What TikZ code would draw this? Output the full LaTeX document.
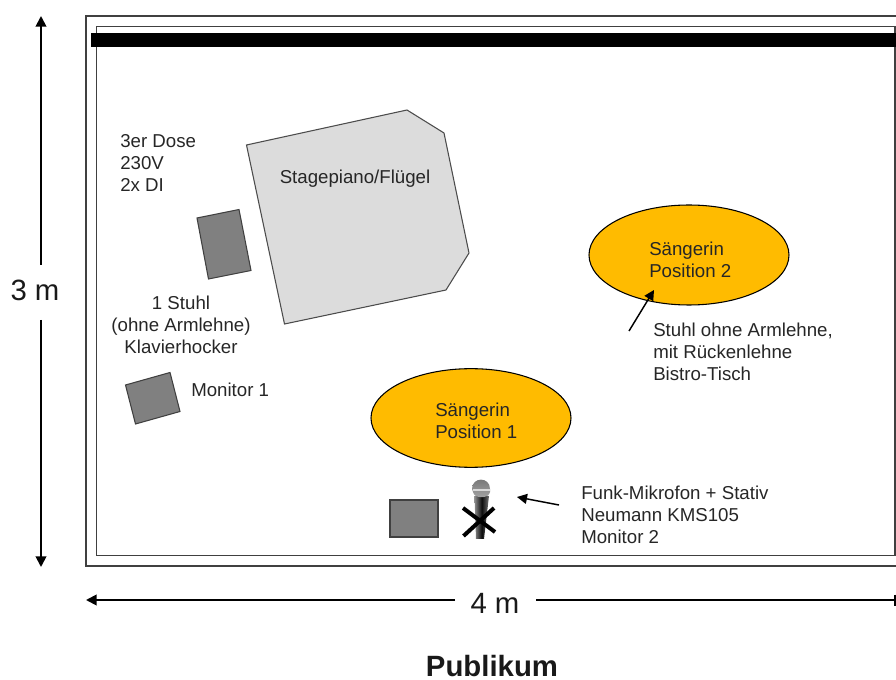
\documentclass[tikz,border=0pt]{standalone}
\usepackage{fontspec}
\setmainfont{Liberation Sans}
\usetikzlibrary{arrows.meta,shapes.geometric}
\definecolor{orangeY}{HTML}{FFBB00}
\definecolor{pianoG}{HTML}{DCDCDC}
\definecolor{boxG}{HTML}{808080}
\tikzset{
  lbl/.style={inner sep=0pt,font=\fontsize{14}{16.5}\selectfont,text=black!85,align=left,anchor=north west},
  lblc/.style={inner sep=0pt,font=\fontsize{14}{16.5}\selectfont,text=black!85,align=center},
  dim/.style={inner sep=0pt,font=\fontsize{22}{24}\selectfont,text=black!90},
  gbox/.style={draw=black!75,line width=0.8pt,fill=boxG},
  frame/.style={draw=black!75,line width=0.9pt},
  pointer/.style={draw=black,line width=1.1pt,-{Triangle[length=7.5pt,width=7.5pt]}},
  dimarrow/.style={draw=black,line width=1.4pt,-{Triangle[length=8pt,width=8pt]}},
  singer/.style={draw=black,line width=0.8pt,fill=orangeY,ellipse,minimum width=150pt,minimum height=75pt,inner sep=0pt}
}
\begin{document}
\begin{tikzpicture}[x=0.75pt,y=-0.75pt]
\path[use as bounding box] (0,0) rectangle (896,680);
\begin{scope}
\clip (0,0) rectangle (896,680);
\draw[frame] (900,16) -- (86,16) -- (86,566) -- (900,566);
\draw[frame] (900,26.5) -- (96.5,26.5) -- (96.5,555.5) -- (895,555.5) -- (895,26.5);
\fill[black] (90.5,33) rectangle (900,47);

% dimensions
\node[dim] (h) at (35,290) {3 m};
\node[dim] (w) at (495,603) {4 m};
\coordinate (hT) at (41,16);
\coordinate (hB) at (41,567);
\coordinate (wL) at (86,600);
\coordinate (wR) at (896,600);
\draw[dimarrow] (41,265) -- (hT);
\draw[dimarrow] (41,320) -- (hB);
\draw[dimarrow] (455,600) -- (wL);
\draw[line width=1.4pt] (536,600) -- (wR);
\draw[line width=1.4pt] (895,594.5) -- (895,605.5);

% piano
\draw[draw=black!70,line width=0.8pt,fill=pianoG] (246.5,145) -- (407,110) -- (444,133) -- (469,253) -- (446,290) -- (284.5,324) -- cycle;
\node[lblc] (piano) at (355,179) {Stagepiano/Flügel};

% boxes
\draw[gbox] (197,218) -- (239,209.5) -- (251,270.5) -- (208.5,279) -- cycle;
\draw[gbox] (125.5,385) -- (170,372.5) -- (180,411.5) -- (135.5,424) -- cycle;
\draw[gbox] (390,500) rectangle (438,537);

% singers
\node[singer] (s2) at (689,255) {};
\node[singer,minimum height=74pt] (s1) at (471,418) {};
\node[lbl] (s2t) at (649,242) {Sängerin\\Position 2};
\node[lbl] (s1t) at (435,403) {Sängerin\\Position 1};

% labels
\node[lbl] (dose) at (120,134) {3er Dose\\230V\\2x DI};
\node[lblc] (stuhl) at (181,324.5) {1 Stuhl\\(ohne Armlehne)\\Klavierhocker};
\node[lbl] (mon1) at (191,383) {Monitor 1};
\node[lbl] (st2) at (653,323) {Stuhl ohne Armlehne,\\mit Rückenlehne\\Bistro-Tisch};
\node[lbl] (funk) at (581,485.5) {Funk-Mikrofon + Stativ\\Neumann KMS105\\Monitor 2};
\node[inner sep=0pt,font=\fontsize{22}{24}\bfseries\selectfont,text=black!90] (pub) at (492,666.5) {Publikum};

% pointers
\coordinate (p2a) at (629,331);
\coordinate (p2b) at (654,290);
\draw[pointer] (p2a) -- (p2b);
\coordinate (p1a) at (559,505);
\coordinate (p1b) at (517,497);

% microphone
\shade[left color=black!45,right color=black!55,middle color=black!95] (474.5,496) -- (489,496) -- (484,539) -- (476,539) -- cycle;
\shade[top color=black!55,bottom color=black!35] (472,489) .. controls (472,476.5) and (490,476.5) .. (490,489) -- (490,492) .. controls (489,499) and (474,499) .. (473,492) -- cycle;
\fill[black!15] (472.5,489.5) rectangle (489.5,491.5);
\draw[line width=3pt,black] (463,508) -- (495,532);
\draw[line width=3pt,black] (463.5,536) -- (494,508);
\draw[pointer] (p1a) -- (p1b);
\end{scope}
\end{tikzpicture}
\end{document}
